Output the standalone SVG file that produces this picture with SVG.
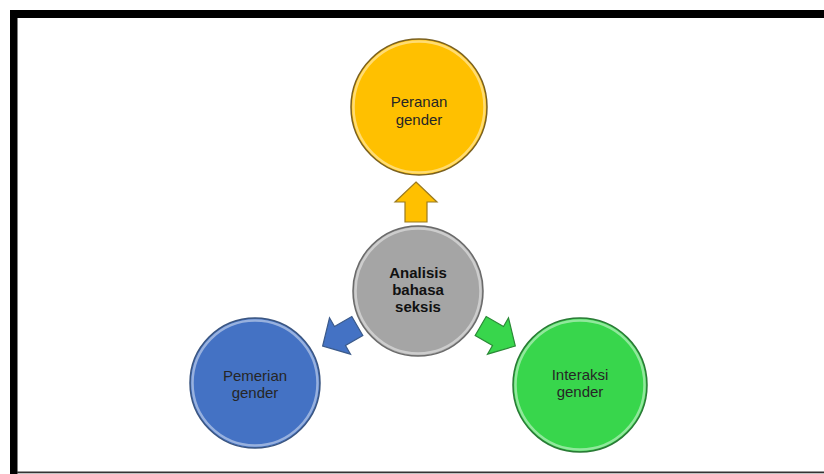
<svg xmlns="http://www.w3.org/2000/svg" width="824" height="474" viewBox="0 0 824 474">
<style>
.lbl{font-family:"Liberation Sans","Open Sans",Arial,sans-serif;font-size:15px;text-anchor:middle;fill:#262626}
.bold{font-weight:bold;fill:#111;font-size:15px}
.rim{fill:none;stroke:#ffffff;stroke-opacity:0.45;stroke-width:2.5}
</style>
<defs>
<polygon id="arr" points="0,-20 21,0 11,0 11,20 -11,20 -11,0 -21,0"/>
</defs>
<rect width="824" height="474" fill="#ffffff"/>
<g id="frame">
<rect x="10" y="10" width="814" height="8" fill="#000"/>
<rect x="10" y="10" width="7.5" height="464" fill="#000"/>
<rect x="17" y="471.5" width="807" height="1.8" fill="#333"/>
</g>
<g id="connectors">
<use href="#arr" transform="translate(416,202)" fill="#ffc000" stroke="#9a7a20" stroke-width="1.2"/>
<use href="#arr" transform="translate(340,336) rotate(-120)" fill="#4472c4" stroke="#3b5a8a" stroke-width="1.2"/>
<use href="#arr" transform="translate(498,336) rotate(120)" fill="#38d64c" stroke="#2a8a36" stroke-width="1.2"/>
</g>
<g id="peranan">
<circle cx="419" cy="107" r="68" fill="#ffc000" stroke="#7a6020" stroke-width="1.5"/>
<circle cx="419" cy="107" r="65.5" class="rim"/>
<text class="lbl" x="419" y="107">Peranan</text>
<text class="lbl" x="419" y="125">gender</text>
</g>
<g id="analisis">
<circle cx="418" cy="291" r="65" fill="#a5a5a5" stroke="#6a6a6a" stroke-width="1.5"/>
<circle cx="418" cy="291" r="62.5" class="rim"/>
<text class="lbl bold" x="418" y="278">Analisis</text>
<text class="lbl bold" x="418" y="295">bahasa</text>
<text class="lbl bold" x="418" y="312">seksis</text>
</g>
<g id="pemerian">
<circle cx="255" cy="383" r="65" fill="#4472c4" stroke="#3a5580" stroke-width="1.5"/>
<circle cx="255" cy="383" r="62.5" class="rim"/>
<text class="lbl" x="255" y="381">Pemerian</text>
<text class="lbl" x="255" y="398">gender</text>
</g>
<g id="interaksi">
<circle cx="580" cy="385" r="67" fill="#38d64c" stroke="#2a7a36" stroke-width="1.5"/>
<circle cx="580" cy="385" r="64.5" class="rim"/>
<text class="lbl" x="580" y="380">Interaksi</text>
<text class="lbl" x="580" y="397">gender</text>
</g>
</svg>
